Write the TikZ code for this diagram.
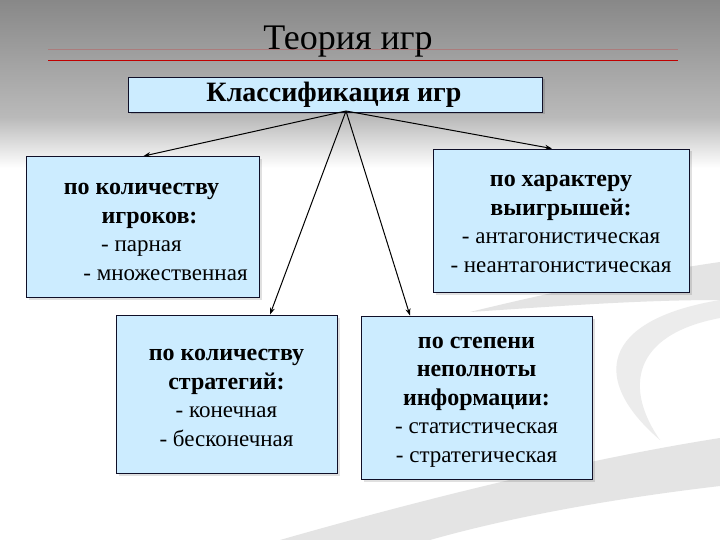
\documentclass[tikz,border=0pt]{standalone}
\usepackage{fontspec}
\setmainfont{LiberationSerif}[Extension=.ttf, UprightFont=*-Regular, BoldFont=*-Bold, ItalicFont=*-Italic, BoldItalicFont=*-BoldItalic]
\usetikzlibrary{arrows.meta,shadows}
\definecolor{boxblue}{RGB}{204,236,255}
\definecolor{bgtop}{RGB}{136,136,136}
\definecolor{bgmid}{RGB}{186,186,186}
\definecolor{swoosh}{RGB}{228,228,228}
\definecolor{frame}{RGB}{15,15,40}
\newcommand{\hdl}[1]{{\fontsize{24}{28.5}\selectfont\bfseries #1}}
\begin{document}
\begin{tikzpicture}[x=1pt,y=-1pt,
  box/.style={draw=frame, line width=0.9pt, fill=boxblue, inner sep=0pt,
    drop shadow={shadow xshift=2.5pt, shadow yshift=-2.5pt, opacity=0.12, fill=black}},
  boxtext/.style={align=center, inner sep=0pt, font=\fontsize{23}{28.5}\selectfont},
  conn/.style={line width=1pt, draw=black, -{Stealth[length=7pt,width=5pt]}},
]
\useasboundingbox (0,0) rectangle (720,540);
% background
\fill[white] (0,0) rectangle (720,540);
\shade[top color=bgtop, bottom color=bgmid] (0,0) rectangle (720,118);
\shade[top color=bgmid, bottom color=white] (0,117.5) rectangle (720,168);
% faint swooshes
\fill[swoosh] (470,312) .. controls (560,290) and (650,272) .. (720,262)
  -- (720,300) .. controls (640,300) and (560,306) .. cycle;
\fill[swoosh, opacity=0.7] (720,300) .. controls (600,320) and (590,380) .. (660,440)
  .. controls (625,390) and (630,335) .. (720,318) -- cycle;
\fill[swoosh] (280,540) .. controls (420,500) and (580,460) .. (720,438)
  -- (720,486) .. controls (600,500) and (500,520) .. (430,540) -- cycle;
% title
\node[font=\fontsize{36}{36}\selectfont, anchor=base, inner sep=0pt] (title) at (348,50) {Теория игр};
\draw[red!60!gray, line width=0.5pt, opacity=0.3] (48,49) -- (678,49);
\draw[red!75!black, line width=0.9pt] (48,60) -- (678,60);
% top box
\node[box, minimum width=414pt, minimum height=35pt] (top) at (335,94.5) {};
\node[font=\fontsize{28}{28}\selectfont\bfseries, anchor=base, inner sep=0pt] (toptext) at (334,102) {Классификация игр};
% boxes
\node[box, minimum width=233pt, minimum height=141pt] (b1) at (142.5,227) {};
\node[box, minimum width=256pt, minimum height=143pt] (b2) at (561,220.5) {};
\node[box, minimum width=221pt, minimum height=158pt] (b3) at (226.5,394) {};
\node[box, minimum width=231pt, minimum height=163pt] (b4) at (476.5,397.5) {};
% texts
\node[boxtext] (t1) at (141.5,232)
  {\hdl{по количеству}\\ \hspace*{16pt}\hdl{игроков:}\\ - парная\\ \hspace*{48pt}- множественная};
\node[boxtext] (t2) at (561,224)
  {\hdl{по характеру}\\ \hdl{выигрышей:}\\ - антагонистическая\\ - неантагонистическая};
\node[boxtext] (t3) at (226.5,398)
  {\hdl{по количеству}\\ \hdl{стратегий:}\\ - конечная\\ - бесконечная};
\node[boxtext] (t4) at (476.5,402)
  {\hdl{по степени}\\ \hdl{неполноты}\\ \hdl{информации:}\\ - статистическая\\ - стратегическая};
% connectors
\coordinate (hub) at (346,111);
\draw[conn] (hub) -- ([xshift=1pt]b1.north);
\draw[conn] (hub) -- ([xshift=-9pt]b2.north);
\draw[conn] (hub) -- ([xshift=43.5pt]b3.north);
\draw[conn] (hub) -- ([xshift=-66.5pt]b4.north);
\end{tikzpicture}
\end{document}
